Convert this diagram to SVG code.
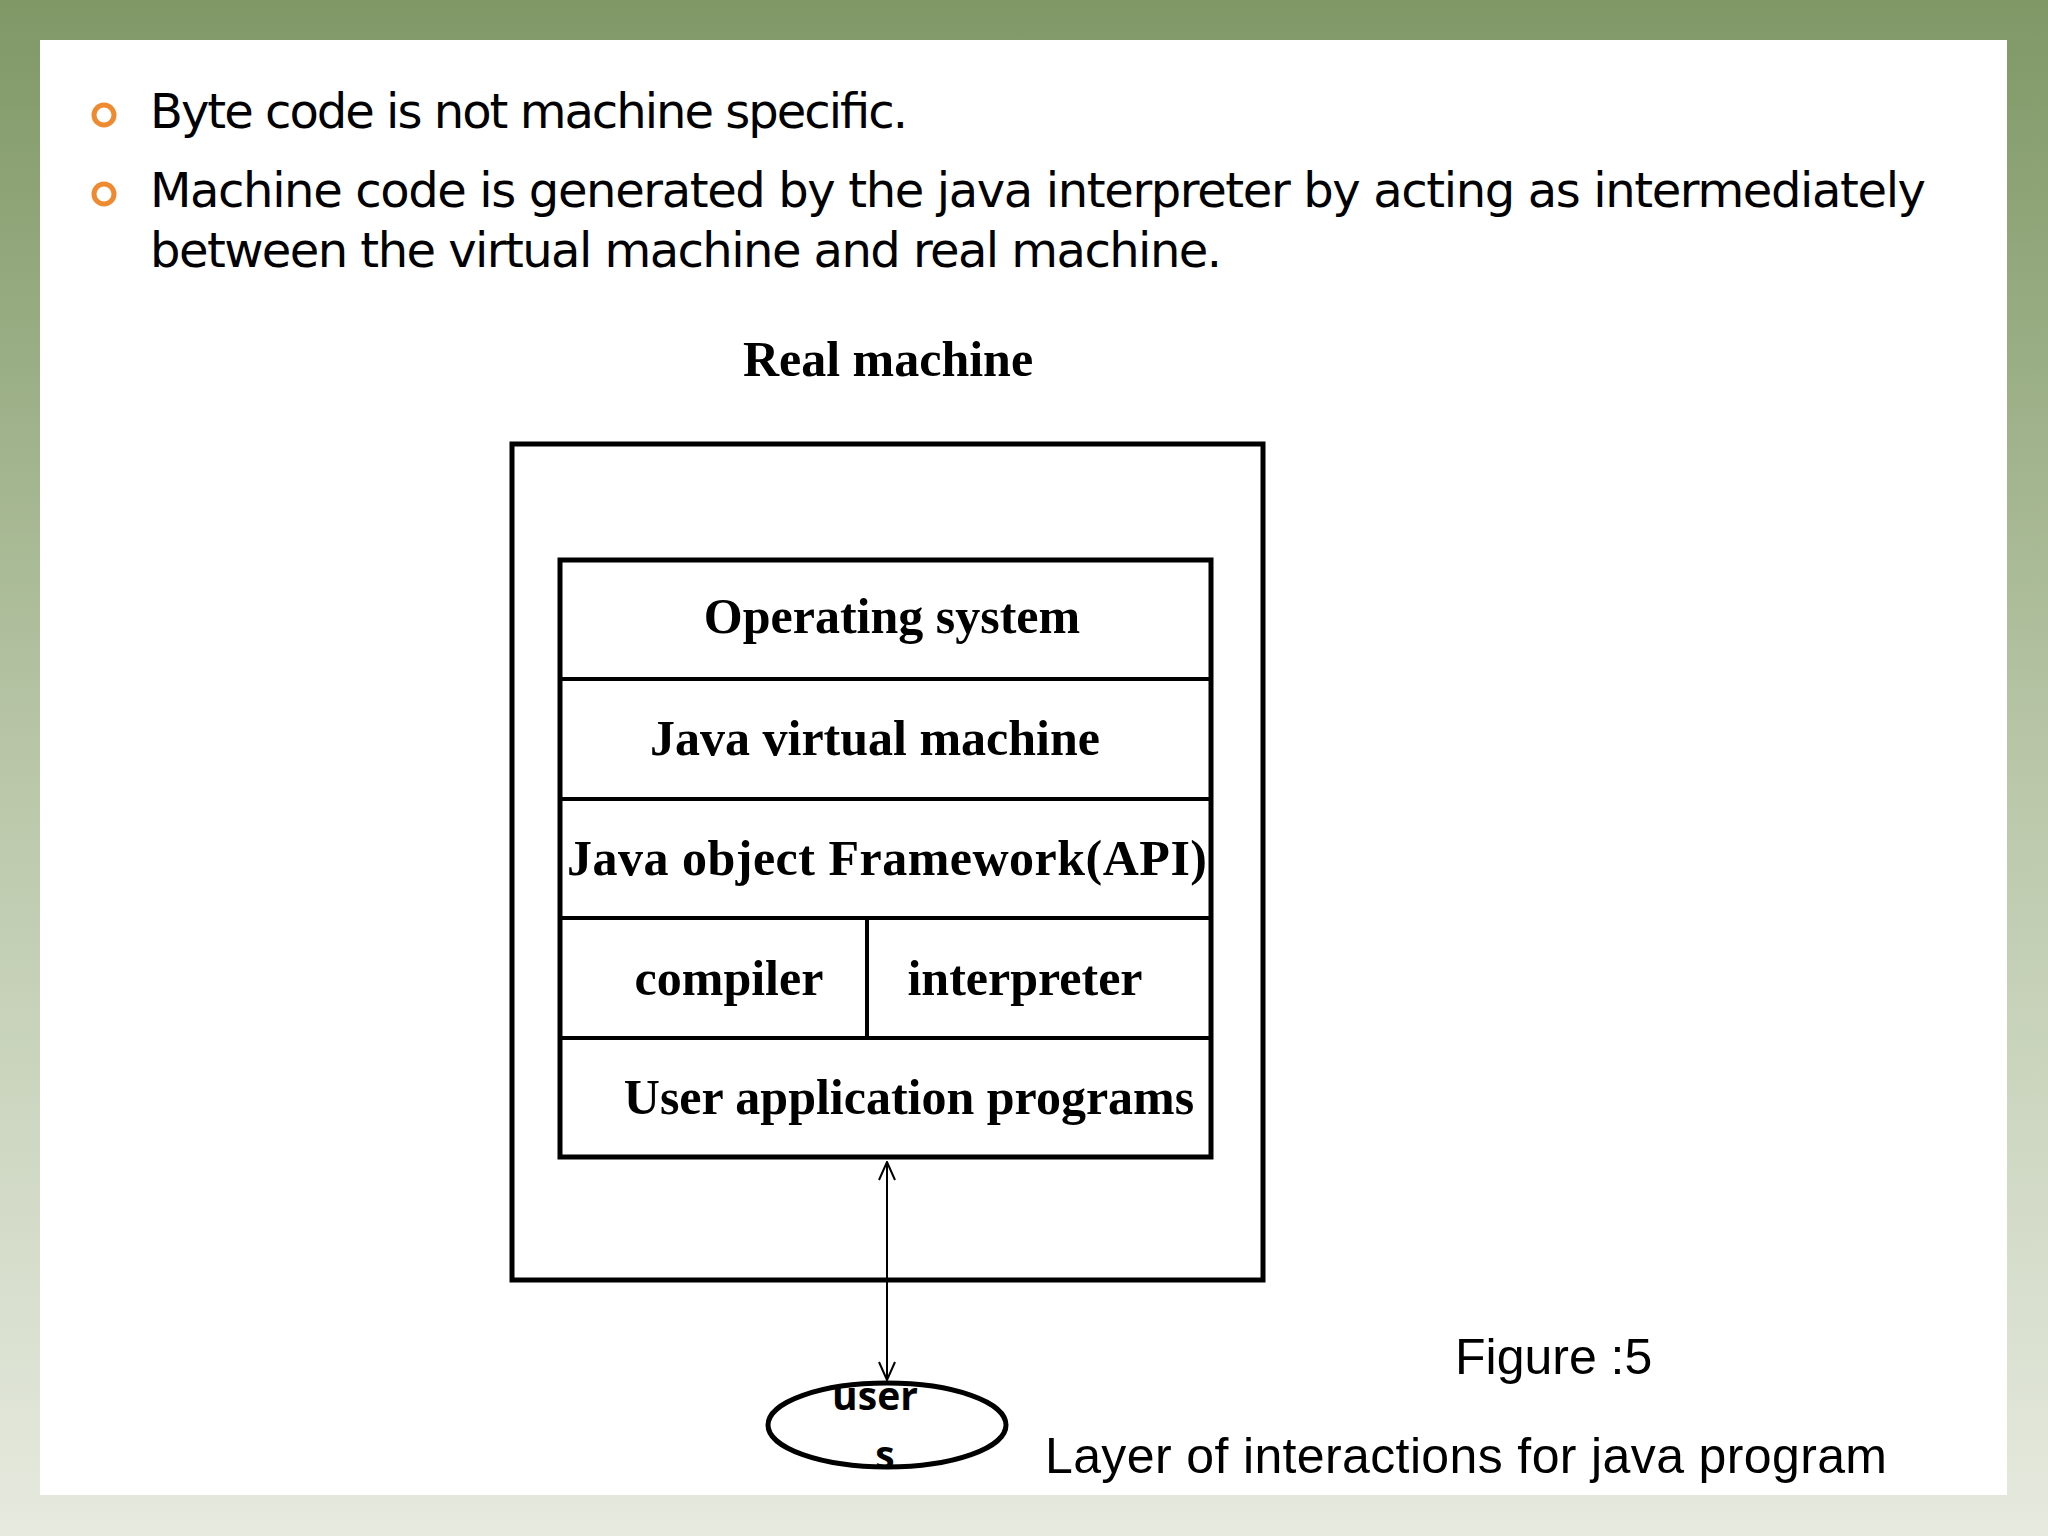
<svg xmlns="http://www.w3.org/2000/svg" width="2048" height="1536" viewBox="0 0 2048 1536">
<defs>
<linearGradient id="bg" x1="0" y1="0" x2="0" y2="1">
<stop offset="0" stop-color="#7f9866"/><stop offset="0.5" stop-color="#b9c7a8"/><stop offset="1" stop-color="#e6eadf"/>
</linearGradient>
<marker id="ah" viewBox="0 0 20 20" refX="19" refY="10" markerWidth="20" markerHeight="20" markerUnits="userSpaceOnUse" orient="auto-start-reverse">
<path d="M1,2 L19,10 L1,18" fill="none" stroke="#000" stroke-width="2"/>
</marker>
<style>
.b{font-family:"DejaVu Sans",sans-serif;font-size:48px;fill:#000}
.s{font-family:"Liberation Serif",serif;font-weight:bold;font-size:50px;fill:#000;text-anchor:middle}
.f{font-family:"Liberation Sans",sans-serif;font-size:50px;fill:#000}
.box{fill:none;stroke:#000;stroke-width:5}
</style>
</defs>
<rect width="2048" height="1536" fill="url(#bg)"/>
<rect x="40" y="40" width="1967" height="1455" fill="#fff"/>
<g id="bullets">
<circle cx="104" cy="115" r="10" fill="none" stroke="#f08a30" stroke-width="5"/>
<circle cx="104" cy="194" r="10" fill="none" stroke="#f08a30" stroke-width="5"/>
<text class="b" x="150" y="128" textLength="758">Byte code is not machine specific.</text>
<text class="b" x="150" y="207" textLength="1776">Machine code is generated by the java interpreter by  acting as intermediately</text>
<text class="b" x="150" y="267" textLength="1072">between the virtual machine  and real machine.</text>
</g>
<g id="real"><text class="s" x="888" y="376" font-size="47">Real machine</text>
<rect class="box" x="512" y="444" width="751" height="836"/></g>
<g id="stack">
<rect class="box" x="560" y="560" width="651" height="597"/>
<path d="M560 679H1211M560 799H1211M560 918H1211M560 1038H1211M867 918V1038" stroke="#000" stroke-width="4"/>
<text class="s" x="892" y="633">Operating system</text>
<text class="s" x="875" y="755">Java virtual machine</text>
<text class="s" x="887" y="875" textLength="640">Java object Framework(API)</text>
<text class="s" x="729" y="995">compiler</text>
<text class="s" x="1025" y="995">interpreter</text>
<text class="s" x="909" y="1114">User application programs</text>
</g>
<g id="connectors"><line x1="887" y1="1162" x2="887" y2="1380" stroke="#000" stroke-width="2" marker-start="url(#ah)" marker-end="url(#ah)"/></g>
<g id="users">
<ellipse cx="887" cy="1425" rx="119" ry="42" fill="none" stroke="#000" stroke-width="5"/>
<text x="875" y="1410" font-family="Open Sans,sans-serif" font-weight="bold" font-size="39" text-anchor="middle">user</text>
<text x="885" y="1469" font-family="Open Sans,sans-serif" font-weight="bold" font-size="39" text-anchor="middle">s</text>
</g>
<g id="caption">
<text class="f" x="1455" y="1374">Figure :5</text>
<text class="f" x="1045" y="1473" textLength="842">Layer of interactions for java program</text>
</g>
</svg>
